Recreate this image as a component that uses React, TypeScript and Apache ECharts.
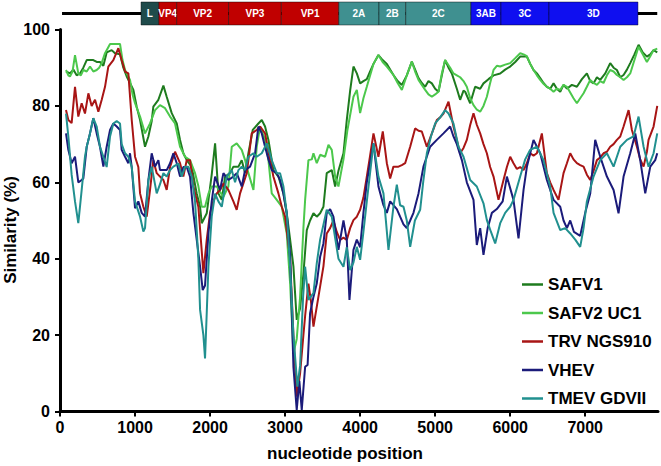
import React, { useEffect, useRef } from "react";
import * as echarts from "echarts";

const FONT = '"Liberation Sans", Arial, Helvetica, sans-serif';

const seriesNames = ["SAFV1", "SAFV2 UC1", "TRV NGS910", "VHEV", "TMEV GDVII"];
const seriesColors = ["#1e7b1e", "#4cc84c", "#a81515", "#1b1b7a", "#21908f"];

const xTicks = { min: 0, max: 7970, interval: 1000 };
const yTicks = { min: 0, max: 100, interval: 20 };

const geneNames = ["L", "VP4", "VP2", "VP3", "VP1", "2A", "2B", "2C", "3AB", "3C", "3D"];
const geneStarts = [1080, 1317, 1555, 2247, 2950, 3716, 4251, 4608, 5477, 5877, 6517];
const geneEnds = [1317, 1555, 2247, 2950, 3716, 4251, 4608, 5477, 5877, 6517, 7703];
const geneGroups = [0, 1, 1, 1, 1, 2, 2, 2, 3, 3, 3];
const genomeLine = [[27, 0.5], [7960, 0.5]];

const safv1: [number, number][] = [[80,89],[133,88.5],[178,89.5],[222,88],[267,88.5],[311,90],[356,92],[400,92],[444,92],[489,91.5],[533,91.5],[578,90.5],[622,94],[689,94.6],[733,93.8],[800,93.5],[844,90],[889,87.7],[933,86],[978,84.2],[1022,79.8],[1067,76.3],[1133,69.3],[1178,72],[1222,76],[1244,79.8],[1311,81.6],[1378,85.3],[1422,82.4],[1489,78.1],[1556,75.4],[1600,71.1],[1644,67.6],[1689,65.8],[1756,64],[1822,57.1],[1867,53.6],[1889,49.3],[1956,51.9],[2022,62],[2067,70.2],[2111,57.1],[2156,55.4],[2200,61.5],[2267,62.4],[2311,64.1],[2378,64.1],[2422,65.8],[2467,62.4],[2511,67.6],[2569,73.7],[2644,75.4],[2689,76.3],[2733,74.6],[2778,71.1],[2844,63.2],[2911,61.5],[2978,57.1],[3022,51.9],[3067,45],[3111,38],[3155,24],[3200,27],[3244,36],[3289,47.5],[3333,50],[3378,51.9],[3422,51],[3467,51.9],[3511,53.6],[3555,62.4],[3622,63.2],[3667,58.9],[3711,63],[3778,67.6],[3822,76.3],[3867,84],[3911,90.3],[3956,88.5],[4000,85.9],[4044,86.5],[4089,87],[4133,89],[4178,91],[4244,93.3],[4300,92],[4356,91],[4400,89.5],[4444,88.1],[4500,86.5],[4556,85.5],[4622,88],[4689,91.6],[4733,89.5],[4778,87.3],[4822,86],[4867,85],[4911,86.5],[4956,85.9],[5000,84.5],[5044,83.7],[5089,88],[5133,92],[5178,90],[5222,88.5],[5289,84.5],[5333,81.6],[5378,84],[5400,83.7],[5467,80.7],[5533,85],[5600,84.5],[5644,85.9],[5711,87],[5778,88],[5867,88.5],[5933,89.5],[6000,90.3],[6067,91.5],[6133,92.9],[6222,92.9],[6267,91],[6311,89.4],[6356,88.5],[6400,87.3],[6444,86],[6489,85],[6533,84.5],[6578,85.9],[6622,84.5],[6667,83.7],[6711,85.5],[6756,84.5],[6822,85.5],[6889,85],[6956,87],[7022,88.5],[7067,86.5],[7111,85.9],[7156,87.5],[7200,86.8],[7267,88.5],[7333,91.2],[7378,90],[7422,89.4],[7467,87.5],[7511,88.1],[7556,89.5],[7600,91.2],[7656,93.5],[7711,96],[7767,94],[7822,92.9],[7867,93.5],[7911,94.6],[7960,94]];

const safv2: [number, number][] = [[80,89.4],[111,88],[133,87.7],[167,89],[200,93.3],[244,88.5],[278,88],[311,89.4],[356,89],[400,90.3],[444,89],[489,89.4],[522,90],[555,91.2],[600,93.8],[667,96.2],[733,96.2],[800,96.2],[833,92],[867,89.4],[933,86.8],[967,83],[1000,80.7],[1067,77.2],[1133,72.8],[1200,75.4],[1267,78.9],[1333,80.2],[1400,79.4],[1467,77.2],[1533,75.4],[1600,69.3],[1667,66.7],[1733,65.8],[1800,62.4],[1844,59],[1889,53.6],[1933,53.6],[1978,57],[2022,58.9],[2089,58.9],[2133,57.5],[2178,56.2],[2244,58.9],[2289,69.3],[2355,70.2],[2422,68.5],[2467,65.8],[2511,62.4],[2578,58],[2622,69.3],[2667,74.6],[2733,71.1],[2778,65.8],[2822,57.1],[2889,55.4],[2956,53.6],[3022,46.6],[3067,33.5],[3111,15.2],[3155,19],[3200,30],[3244,48],[3267,55.4],[3311,65.8],[3356,66],[3378,67.6],[3422,65],[3467,67.2],[3533,66.7],[3578,69.8],[3622,68.5],[3667,61.5],[3711,58.9],[3778,66],[3831,73.7],[3911,82.4],[3956,84.2],[4000,78.1],[4044,82],[4089,85],[4178,91],[4244,93.3],[4300,91.5],[4356,90.3],[4444,88.1],[4500,86],[4556,84.2],[4622,88],[4689,91.6],[4733,89],[4778,86.8],[4822,85.5],[4867,84.2],[4911,83],[4956,82.4],[5000,83],[5044,83.7],[5089,88.5],[5133,92],[5200,90],[5244,88.5],[5289,88],[5333,87.5],[5378,86.5],[5422,85],[5467,82],[5511,80.2],[5556,79],[5600,78.5],[5644,80],[5689,82.4],[5733,86],[5778,89.4],[5822,90.5],[5867,90.3],[5933,90.8],[6000,91.2],[6067,92.5],[6133,93.8],[6178,93.5],[6222,93],[6267,91],[6311,89.4],[6356,88],[6400,86.8],[6444,85.8],[6489,85],[6533,84.5],[6578,83.7],[6622,84.5],[6667,84.2],[6711,85.5],[6756,85],[6800,83.5],[6844,82],[6889,80.7],[6933,82],[6978,83.3],[7022,85],[7067,86.8],[7111,86],[7156,85.5],[7200,86.5],[7244,86],[7289,88],[7333,89.4],[7378,89],[7422,88.1],[7467,87.5],[7511,86.8],[7556,87.5],[7600,88.5],[7656,92],[7711,95.5],[7767,93.5],[7822,91.5],[7867,93],[7911,94.6],[7960,95]];

const trv: [number, number][] = [[80,78.9],[111,76.3],[155,75.5],[200,85],[244,77.2],[289,80.7],[333,78],[378,83.3],[422,80],[467,81.6],[511,78.5],[556,81.6],[600,85],[644,90.3],[711,92],[778,95.1],[822,92],[867,89],[911,88.5],[956,76.3],[1000,66.7],[1044,64],[1067,57.1],[1111,53.6],[1156,51],[1200,58],[1244,65.8],[1289,62.4],[1333,61.5],[1378,60.6],[1422,58],[1467,64],[1533,68],[1600,65],[1644,61.5],[1689,65.8],[1733,65.8],[1778,58.9],[1844,53.6],[1889,42],[1911,36.2],[1956,45],[2000,52],[2044,55],[2089,57.1],[2133,58],[2178,59.7],[2244,58],[2311,55],[2355,52.8],[2400,57.1],[2444,59.7],[2489,62.4],[2555,72.8],[2622,73.7],[2667,74.6],[2733,72.8],[2800,65.8],[2844,61.5],[2911,57.1],[2956,53.6],[3000,51],[3067,40],[3111,20],[3155,3.9],[3200,10],[3244,20],[3267,25],[3311,33.5],[3344,29],[3378,22.2],[3444,30],[3511,38],[3555,46.6],[3600,48],[3644,50],[3689,47],[3733,44.9],[3778,45.5],[3822,44.9],[3867,48],[3911,50.1],[3956,51],[4000,52.8],[4044,56],[4089,61.5],[4133,67],[4178,72.8],[4244,66.7],[4302,73.3],[4356,65],[4400,61],[4444,64.1],[4511,64.1],[4556,64.5],[4600,65],[4667,69.3],[4733,74.1],[4778,73.5],[4822,73.3],[4889,69.3],[4956,72.8],[5022,76.3],[5067,77],[5111,78],[5178,81.1],[5244,74.6],[5289,71],[5333,67.6],[5378,69],[5422,71.1],[5467,75],[5511,78.1],[5556,75],[5600,72.8],[5644,70],[5689,67.6],[5733,64],[5778,61.5],[5844,55.4],[5911,60.6],[5956,64],[6000,66.7],[6044,65],[6089,63.5],[6133,64],[6178,63.2],[6222,65],[6267,67.6],[6311,67],[6356,67.6],[6422,72.8],[6489,62.4],[6533,60],[6578,58],[6644,55.4],[6711,62.4],[6756,65],[6800,67.6],[6844,66],[6889,65],[6933,64.5],[6978,64.1],[7022,62],[7067,60.6],[7111,63],[7156,65.8],[7200,66.5],[7244,67.6],[7289,68],[7333,69.3],[7378,70],[7422,71.1],[7467,72],[7511,74.6],[7578,78.9],[7622,73.7],[7689,69.3],[7733,66],[7778,64.1],[7822,68],[7844,71.1],[7911,74.6],[7960,80]];

const vhev: [number, number][] = [[80,72.8],[111,68.5],[155,65],[200,66.7],[244,60],[289,60.6],[311,61],[356,69.3],[400,72.8],[444,76.8],[489,72.8],[533,69.3],[578,64.1],[622,69.3],[667,73.7],[711,75.4],[756,74.6],[800,73.7],[822,68.5],[867,66.7],[911,65],[933,67.6],[956,64],[1000,53.2],[1044,55],[1089,52],[1133,51],[1178,60.6],[1222,67.6],[1267,64.1],[1311,65.8],[1333,63.2],[1378,63.2],[1422,63.2],[1467,65],[1511,67.6],[1556,65],[1600,61.5],[1644,64],[1689,64],[1733,61.5],[1778,51.9],[1822,45],[1867,37.9],[1902,31.8],[1933,33],[1978,46.6],[2022,55],[2067,61.5],[2133,58],[2178,62.4],[2244,60.6],[2311,61.5],[2356,62.4],[2422,58.9],[2467,63.2],[2533,64.1],[2600,67.6],[2644,74.6],[2689,72.8],[2733,69.3],[2778,66],[2822,63.2],[2889,62.4],[2933,60.6],[2978,57],[3022,51.9],[3067,41],[3111,11.7],[3155,0.4],[3190,8],[3222,0.4],[3267,11.7],[3300,12.2],[3333,25.7],[3378,30],[3422,33.5],[3467,40.5],[3511,44],[3555,51.9],[3600,53],[3644,51],[3711,42.3],[3778,50],[3822,45],[3858,29.2],[3911,42.3],[3956,45],[4000,43],[4044,52],[4089,60],[4178,70.2],[4244,58.9],[4311,54],[4356,52],[4400,55],[4444,54],[4489,53],[4533,51],[4578,49],[4622,48],[4667,50],[4711,52],[4778,57.1],[4844,64.1],[4933,69.3],[5022,71.1],[5111,72.8],[5200,74.6],[5244,72],[5289,70],[5356,65.8],[5422,60],[5511,55.4],[5555,43.6],[5600,48],[5644,41],[5700,48],[5756,52],[5822,53],[5900,55],[5956,61.5],[6044,55.4],[6111,45.3],[6178,58],[6222,64],[6267,67.6],[6311,71.1],[6400,67.6],[6489,60.6],[6578,55.4],[6667,53.6],[6711,50],[6756,48],[6800,50],[6850,47],[6933,46],[7000,52],[7067,57.1],[7133,71.1],[7200,66.7],[7289,61.5],[7378,58],[7444,51.9],[7511,61.5],[7600,67.6],[7667,72.8],[7733,65.8],[7800,57.1],[7867,64.1],[7933,65.8],[7960,67.6]];

const tmev: [number, number][] = [[80,78],[111,72],[155,62],[200,55],[244,49.3],[289,58],[333,66.7],[356,69.3],[400,72.8],[444,76.8],[489,74.6],[533,69.3],[578,66.7],[622,64],[667,72],[711,75.4],[756,76],[800,75.4],[822,70],[867,67.6],[911,66.7],[956,64],[1000,55],[1067,51],[1111,47.1],[1133,48],[1178,60.6],[1222,64.1],[1289,57.1],[1333,59.5],[1378,62.4],[1422,61.5],[1467,63.2],[1511,64.1],[1578,64.9],[1622,61.5],[1667,64.1],[1711,64.1],[1756,61.5],[1800,55],[1844,40],[1867,26.6],[1911,20],[1933,13.9],[1956,26],[1978,37.9],[2022,51],[2067,57],[2111,55],[2156,53.6],[2222,61.5],[2289,63.2],[2333,60],[2378,63.2],[2422,64.1],[2467,63.2],[2511,66.7],[2578,67.6],[2622,66.7],[2689,67.6],[2756,70.2],[2822,65.8],[2889,62.4],[2933,62.4],[2978,58.9],[3022,51.9],[3067,37.9],[3111,20],[3164,6.5],[3200,12],[3240,30],[3267,37.9],[3311,29.2],[3378,31],[3422,38.8],[3467,45],[3555,52.8],[3622,51],[3711,40],[3778,37.9],[3822,43],[3867,37],[3911,39],[3956,43.1],[4000,39.7],[4044,47],[4089,55],[4178,70.2],[4244,61.5],[4311,57.1],[4378,42.3],[4444,53.6],[4489,59.4],[4533,54],[4578,53.6],[4622,50],[4667,43.1],[4730,50],[4800,52.8],[4840,60],[4889,67.6],[4944,72],[5000,75.4],[5067,77],[5133,78.9],[5178,78],[5244,75.4],[5311,69.3],[5378,66.7],[5467,60.6],[5555,58.9],[5644,54.5],[5689,50.1],[5744,47],[5800,44],[5867,49.3],[5933,52],[6000,53.6],[6044,55.4],[6133,61.5],[6200,66],[6267,68.5],[6356,69.3],[6444,65.8],[6533,58.9],[6578,52],[6667,47.5],[6733,48],[6800,46.6],[6867,45],[6933,43.1],[6978,48],[7022,55],[7111,61.5],[7200,65.8],[7289,67.6],[7378,64.1],[7467,69.3],[7556,71.1],[7644,72],[7711,77.2],[7778,69.3],[7844,64.1],[7911,67.6],[7960,72.8]];

const allSeries = [safv1, safv2, trv, vhev, tmev];
const geneGroupColors = ["#1f4b4b", "#c00000", "#3f9090", "#0f0ff0"];

export default function App() {
  const ref = useRef<HTMLDivElement>(null);
  useEffect(() => {
    if (!ref.current) return;
    const chart = echarts.init(ref.current, null, { renderer: "svg" });
    const geneData = geneNames.map((n, i) => [geneStarts[i], geneEnds[i], i]);
    chart.setOption({
      animation: false,
      backgroundColor: "#ffffff",
      textStyle: { fontFamily: FONT },
      grid: [
        { left: 60, right: 3, top: 29.5, bottom: 54.5, outerBoundsMode: "none" },
        { left: 60, right: 3, top: 2, height: 23, outerBoundsMode: "none" },
      ],
      xAxis: [
        {
          type: "value",
          gridIndex: 0,
          min: xTicks.min,
          max: xTicks.max,
          interval: xTicks.interval,
          axisLine: { show: true, lineStyle: { color: "#000", width: 3 } },
          axisTick: { show: true, length: 5, lineStyle: { color: "#000", width: 2 } },
          axisLabel: {
            color: "#000",
            fontSize: 16,
            fontWeight: "bold",
            fontFamily: FONT,
            margin: 8,
            showMaxLabel: false,
            formatter: (v: number) => String(v),
          },
          splitLine: { show: false },
        },
        { type: "value", gridIndex: 1, min: xTicks.min, max: xTicks.max, show: false },
      ],
      yAxis: [
        {
          type: "value",
          gridIndex: 0,
          min: yTicks.min,
          max: yTicks.max,
          interval: yTicks.interval,
          axisLine: { show: true, lineStyle: { color: "#000", width: 3 } },
          axisTick: { show: true, length: 5, lineStyle: { color: "#000", width: 2 } },
          axisLabel: {
            color: "#000",
            fontSize: 16,
            fontWeight: "bold",
            fontFamily: FONT,
            margin: 10,
            formatter: (v: number) => String(v),
          },
          splitLine: { show: false },
        },
        { type: "value", gridIndex: 1, min: 0, max: 1, show: false },
      ],
      legend: {
        orient: "vertical",
        left: 517,
        top: 271,
        icon: "rect",
        itemWidth: 21,
        itemHeight: 2.5,
        itemGap: 11.5,
        data: seriesNames,
        textStyle: {
          color: "#000",
          fontSize: 17,
          fontWeight: "bold",
          fontFamily: FONT,
          lineHeight: 16,
        },
      },
      graphic: [
        {
          type: "text",
          x: 345,
          y: 453,
          style: {
            text: "nucleotide position",
            fill: "#000",
            font: `bold 17px ${FONT}`,
            align: "center",
            verticalAlign: "middle",
          },
        },
        {
          type: "text",
          x: 10,
          y: 230,
          rotation: Math.PI / 2,
          style: {
            text: "Similarity (%)",
            fill: "#000",
            font: `bold 17px ${FONT}`,
            align: "center",
            verticalAlign: "middle",
          },
        },
      ],
      series: [
        ...allSeries.map((d, i) => ({
          name: seriesNames[i],
          type: "line",
          xAxisIndex: 0,
          yAxisIndex: 0,
          data: d,
          symbol: "none",
          color: seriesColors[i],
          lineStyle: { color: seriesColors[i], width: 2 },
          z: 2 + i,
        })),
        {
          type: "line",
          xAxisIndex: 1,
          yAxisIndex: 1,
          data: genomeLine,
          symbol: "none",
          silent: true,
          lineStyle: { color: "#000", width: 3 },
          z: 1,
        },
        {
          type: "custom",
          xAxisIndex: 1,
          yAxisIndex: 1,
          data: geneData,
          clip: false,
          z: 3,
          renderItem: (params: any, api: any) => {
            const s = api.value(0);
            const e = api.value(1);
            const idx = api.value(2);
            const p1 = api.coord([s, 1]);
            const p2 = api.coord([e, 0]);
            return {
              type: "group",
              children: [
                {
                  type: "rect",
                  shape: { x: p1[0], y: p1[1], width: p2[0] - p1[0], height: p2[1] - p1[1] },
                  style: {
                    fill: geneGroupColors[geneGroups[idx]],
                    stroke: "rgba(0,0,0,0.55)",
                    lineWidth: 0.8,
                  },
                },
                {
                  type: "text",
                  style: {
                    text: geneNames[idx],
                    x: (p1[0] + p2[0]) / 2,
                    y: (p1[1] + p2[1]) / 2,
                    fill: "#ffffff",
                    font: `bold 10px ${FONT}`,
                    align: "center",
                    verticalAlign: "middle",
                  },
                },
              ],
            };
          },
        },
      ],
    });
    return () => chart.dispose();
  }, []);
  return (
    <div
      ref={ref}
      style={{ position: "fixed", left: 0, top: 0, width: 661, height: 466 }}
    />
  );
}
